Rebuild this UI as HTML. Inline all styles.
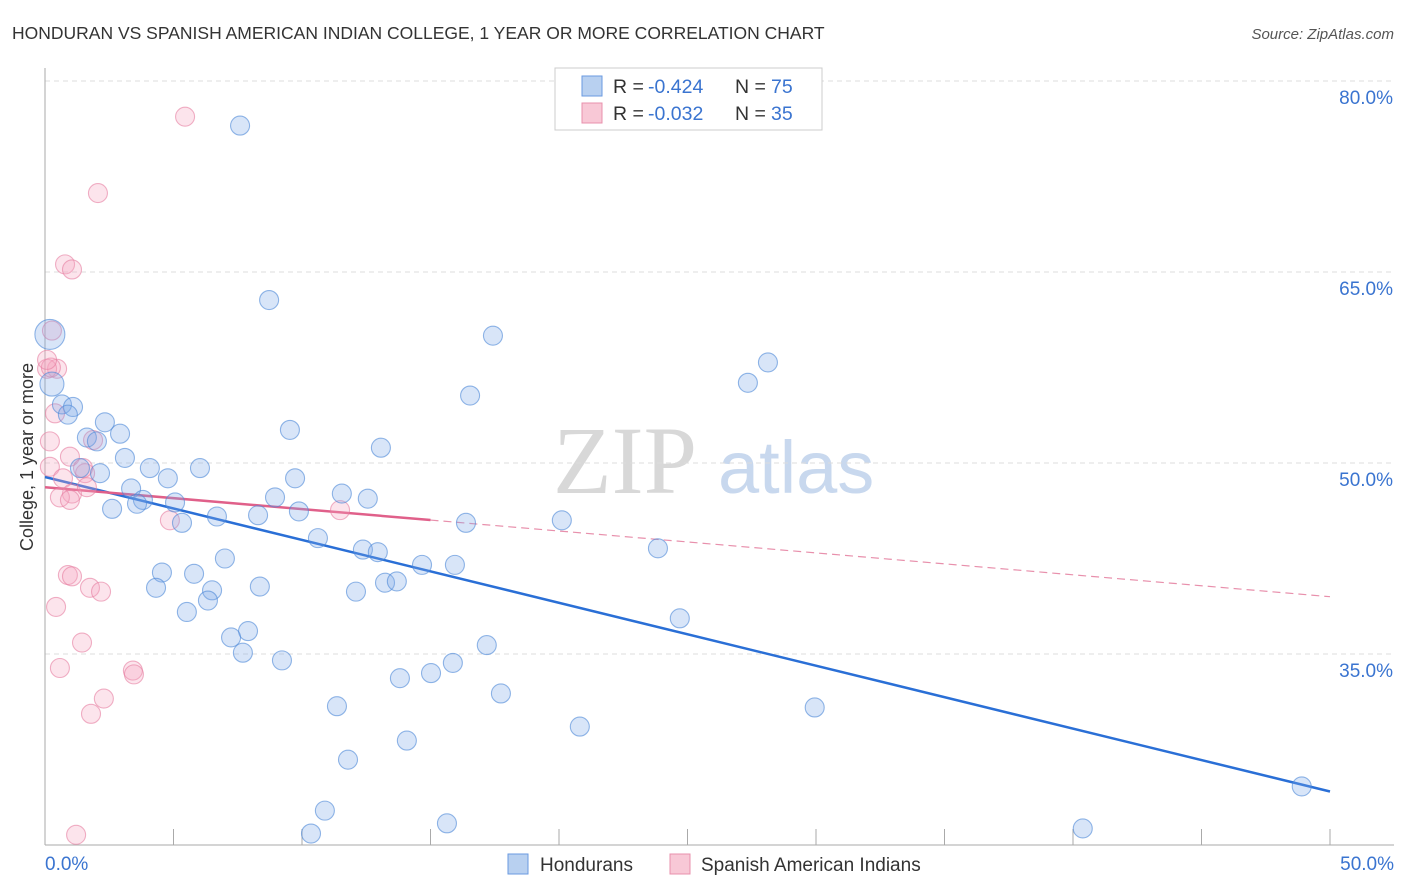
<!DOCTYPE html>
<html><head><meta charset="utf-8"><style>
body{margin:0;background:#fff;font-family:"Liberation Sans",sans-serif;}
</style></head><body>
<svg id="chart" width="1406" height="892" xmlns="http://www.w3.org/2000/svg" style="display:block">
<text x="12" y="39" font-size="17.5" fill="#333">HONDURAN VS SPANISH AMERICAN INDIAN COLLEGE, 1 YEAR OR MORE CORRELATION CHART</text>
<text x="1394" y="39" font-size="15" fill="#555" text-anchor="end" font-style="italic">Source: ZipAtlas.com</text>
<text transform="translate(33,457) rotate(-90)" font-size="18" fill="#333" text-anchor="middle">College, 1 year or more</text>
<g font-size="96">
<text x="553" y="493" fill="#d8d8d8" font-family="Liberation Serif,serif">ZIP</text>
<text x="718" y="493" fill="#c8d8ee" font-size="74">atlas</text></g>
<g id="grid"></g><g id="axes"></g><g id="lines"></g><g id="pts"></g>
<g>
<rect x="555" y="68" width="267" height="62" fill="#fff" stroke="#ccc"/>
<rect x="582" y="76" width="20" height="20" fill="#b8d0f0" stroke="#6a9ae0"/>
<rect x="582" y="103" width="20" height="20" fill="#f8c8d6" stroke="#e890ac"/>
<g font-size="19.5">
<text x="613" y="93" fill="#333">R =</text><text x="648" y="93" fill="#3a74d0">-0.424</text>
<text x="735" y="93" fill="#333">N =</text><text x="771" y="93" fill="#3a74d0">75</text>
<text x="613" y="120" fill="#333">R =</text><text x="648" y="120" fill="#3a74d0">-0.032</text>
<text x="735" y="120" fill="#333">N =</text><text x="771" y="120" fill="#3a74d0">35</text>
</g>
</g>
<g>
<rect x="508" y="854" width="20" height="20" fill="#b8d0f0" stroke="#6a9ae0"/>
<text x="540" y="871" font-size="19" fill="#333">Hondurans</text>
<rect x="670" y="854" width="20" height="20" fill="#f8c8d6" stroke="#e890ac"/>
<text x="701" y="871" font-size="19" fill="#333">Spanish American Indians</text>
</g>
</svg>
<script>
const yTicks=[80,65,50,35];
const yTickLabels=["80.0%","65.0%","50.0%","35.0%"];
const xTickVals=[0,5,10,15,20,25,30,35,40,45,50];
const xLabels=["0.0%","50.0%"];
const blueX=[7.59,8.72,17.43,28.13,27.35,16.54,0.19,0.27,0.66,1.09,0.89,2.33,2.92,1.63,2.02,3.11,4.08,1.36,2.14,6.03,4.78,9.53,13.07,9.73,3.35,3.81,3.58,2.61,5.06,5.33,6.69,8.29,8.95,9.88,11.55,12.56,16.38,20.11,10.62,12.37,12.95,23.85,7.00,4.55,5.80,4.32,6.50,8.36,6.34,5.52,13.23,13.69,14.67,15.95,12.10,24.70,7.90,7.24,7.70,9.22,17.19,15.87,15.02,13.81,17.74,11.36,20.81,29.95,14.08,11.79,10.89,10.35,15.64,40.38,48.90];
const blueY=[76.5,62.8,60.0,57.9,56.3,55.3,60.1,56.2,54.6,54.4,53.8,53.2,52.3,52.0,51.7,50.4,49.6,49.6,49.2,49.6,48.8,52.6,51.2,48.8,48.0,47.1,46.8,46.4,46.9,45.3,45.8,45.9,47.3,46.2,47.6,47.2,45.3,45.5,44.1,43.2,43.0,43.3,42.5,41.4,41.3,40.2,40.0,40.3,39.2,38.3,40.6,40.7,42.0,42.0,39.9,37.8,36.8,36.3,35.1,34.5,35.7,34.3,33.5,33.1,31.9,30.9,29.3,30.8,28.2,26.7,22.7,20.9,21.7,21.3,24.6];
const pinkX=[5.45,2.06,0.78,1.05,0.27,0.47,0.08,0.39,0.19,1.87,0.97,0.19,0.70,1.56,1.05,0.58,0.97,1.63,4.86,11.48,0.89,1.05,1.75,2.18,0.43,1.44,3.42,3.46,0.58,2.29,1.79,1.21,0.23,1.48,0.08];
const pinkY=[77.2,71.2,65.6,65.2,60.4,57.4,57.4,53.9,51.7,51.8,50.5,49.7,48.8,49.2,47.6,47.3,47.1,48.1,45.5,46.3,41.2,41.1,40.2,39.9,38.7,35.9,33.7,33.4,33.9,31.5,30.3,20.8,57.5,49.6,58.1];
const blueTrend=[48.9,24.2];
const pinkTrend=[48.1,39.5];
const pinkSolidEnd=15;
const NS="http://www.w3.org/2000/svg";
const X=v=>45+v*25.7, Y=v=>845-(v-20)*12.733;
function mk(tag,attrs,parent){const e=document.createElementNS(NS,tag);for(const k in attrs)e.setAttribute(k,attrs[k]);document.getElementById(parent).appendChild(e);return e;}
yTicks.forEach((t,i)=>{
 const g=mk('line',{x1:45,x2:1394,y1:Y(t),y2:Y(t),stroke:'#ddd','stroke-dasharray':'5,4'},'grid');
 
 
 const l=mk('text',{x:1393,y:Y(t)+23,'font-size':19,fill:'#3a74d0','text-anchor':'end'},'grid');l.textContent=yTickLabels[i];
 
 
});
const ax=mk('line',{x1:45,x2:45,y1:68,y2:845,stroke:'#aaa'},'axes');


const bx=mk('line',{x1:45,x2:1394,y1:845,y2:845,stroke:'#aaa'},'axes');


xTickVals.forEach(v=>{const t=mk('line',{x1:X(v),x2:X(v),y1:829,y2:845,stroke:'#aaa'},'axes');
 
 });
[[0,'start',45],[50,'end',1394]].forEach((a,i)=>{const t=mk('text',{x:a[2],y:870,'font-size':19,fill:'#3a74d0','text-anchor':a[1]},'axes');t.textContent=xLabels[i];
 
 });
function pts(xs,ys,fill,stroke,name){xs.forEach((x,i)=>{let r=9.5;if(name==='honduran-point'&&i===6)r=15;if(name==='honduran-point'&&i===7)r=12;
 const c=mk('circle',{cx:X(x),cy:Y(ys[i]),r:r,fill:fill,stroke:stroke,'stroke-width':1.1},'pts');
 
 });}
pts(pinkX,pinkY,'rgba(244,165,192,0.3)','rgba(230,125,160,0.6)','spanish-point');
pts(blueX,blueY,'rgba(125,170,232,0.3)','rgba(75,135,215,0.6)','honduran-point');
const bl=mk('line',{x1:X(0),y1:Y(blueTrend[0]),x2:X(50),y2:Y(blueTrend[1]),stroke:'#2a6fd6','stroke-width':2.5},'lines');


const pv=x=>pinkTrend[0]+(pinkTrend[1]-pinkTrend[0])*x/50;
const pl=mk('line',{x1:X(0),y1:Y(pv(0)),x2:X(pinkSolidEnd),y2:Y(pv(pinkSolidEnd)),stroke:'#e0608a','stroke-width':2.5},'lines');


const pd=mk('line',{x1:X(pinkSolidEnd),y1:Y(pv(pinkSolidEnd)),x2:X(50),y2:Y(pv(50)),stroke:'#e890ac','stroke-width':1.2,'stroke-dasharray':'8,5'},'lines');


</script>
</body></html>
